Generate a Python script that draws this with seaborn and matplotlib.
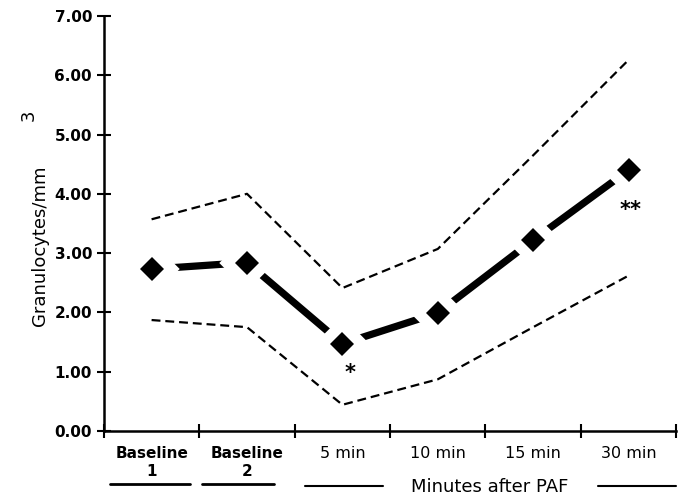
import numpy as np
import pandas as pd
import seaborn as sns
import matplotlib.pyplot as plt

sns.set_style("ticks")
plt.rcParams['font.family'] = ['DejaVu Sans']
plt.rcParams['text.color'] = 'black'
plt.rcParams['xtick.color'] = 'black'
plt.rcParams['ytick.color'] = 'black'
plt.rcParams['axes.labelcolor'] = 'black'

# data
categories = ['Baseline\n1', 'Baseline\n2', '5 min', '10 min', '15 min', '30 min']
mean_vals = [2.73, 2.84, 1.47, 1.99, 3.22, 4.40]
upper_vals = [3.57, 4.00, 2.41, 3.07, 4.65, 6.26]
lower_vals = [1.87, 1.75, 0.44, 0.87, 1.75, 2.62]
marks = ['', '', '*', '', '', '**']
mark_vals = [None, None, 0.98, None, None, 3.72]

pos = np.arange(len(categories))
tb = pd.DataFrame({'pos': pos, 'mean': mean_vals, 'upper': upper_vals, 'lower': lower_vals})

fig = plt.figure(figsize=(6.88, 5.01), dpi=100)
ax = fig.add_axes([0.151, 0.140, 0.832, 0.828])

## confidence band lines
for col in ['upper', 'lower']:
    sns.lineplot(data=tb, x='pos', y=col, ax=ax, color='black', lw=1.6,
                 linestyle=(0, (4, 2.2)))

## mean line with diamonds, white halo gives the gap near markers
sns.lineplot(data=tb, x='pos', y='mean', ax=ax, color='black', lw=5.2,
             marker='D', markersize=12, markeredgecolor='white', markeredgewidth=16,
             solid_capstyle='butt')
sns.lineplot(data=tb, x='pos', y='mean', ax=ax, color='black', lw=0,
             marker='D', markersize=12.5, markeredgecolor='black', markeredgewidth=0)

for p, m, v in zip(pos, marks, mark_vals):
    if m:
        off = 0.08 if len(m) == 1 else 0.02
        ax.text(p + off, v, m, ha='center', va='center', fontsize=15, fontweight='bold')

ax.set_xlim(-0.5, 5.5)
ax.set_ylim(0, 7)
ax.set_yticks(np.arange(0, 8, 1))
ax.set_yticklabels([f"{v:.2f}" for v in np.arange(0, 8, 1)], fontsize=11, fontweight='bold')
ax.set_xticks(np.arange(-0.5, 6, 1))
ax.set_xticklabels([])
ax.set_xticks(pos, minor=True)
ax.set_xticklabels(categories, minor=True, fontsize=11.5)
for lbl in ax.get_xticklabels(minor=True)[:2]:
    lbl.set_fontweight('bold')
    lbl.set_fontsize(11)
ax.tick_params(axis='x', which='minor', length=0, pad=11)
ax.tick_params(axis='both', which='major', direction='inout', length=10, width=1.5, color='black')
ax.tick_params(axis='x', which='major', labelbottom=False)
ax.set_xlabel('')
ax.set_ylabel('')
sns.despine(ax=ax)
for s in ['left', 'bottom']:
    ax.spines[s].set_linewidth(1.8)
    ax.spines[s].set_color('black')

## y label with detached superscript
fig.text(0.058, 0.51, 'Granulocytes/mm', rotation=90, ha='center', va='center', fontsize=13)
fig.text(0.041, 0.77, '3', rotation=90, ha='center', va='center', fontsize=13)

## lines under baseline labels and the 'Minutes after PAF' caption
fig.add_artist(plt.Line2D([110/688, 190/688], [1 - 484/501] * 2, color='black', lw=2))
fig.add_artist(plt.Line2D([202/688, 274/688], [1 - 484/501] * 2, color='black', lw=2))
fig.add_artist(plt.Line2D([305/688, 383/688], [1 - 486/501] * 2, color='black', lw=1.5))
fig.add_artist(plt.Line2D([598/688, 676/688], [1 - 486/501] * 2, color='black', lw=1.5))
fig.text(490/688, 1 - 487/501, 'Minutes after PAF', ha='center', va='center', fontsize=13)

plt.savefig('out.png', dpi=100)
